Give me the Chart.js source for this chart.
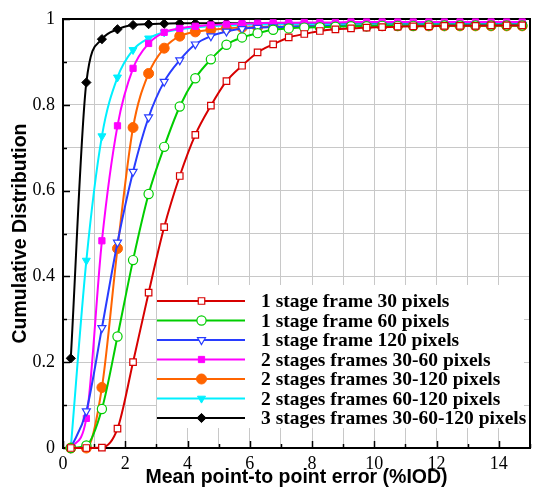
<!DOCTYPE html>
<html>
<head>
<meta charset="utf-8">
<script src="https://cdn.jsdelivr.net/npm/chart.js@4.4.0/dist/chart.umd.min.js"></script>
<style>
  html, body { margin: 0; padding: 0; background: #fff; }
  canvas { display: block; }
</style>
</head>
<body>
<canvas id="cdf" width="536" height="489"></canvas>
<script>
// bin centres of the error histogram (%IOD)
const errorBins = [0.25, 0.75, 1.25, 1.75, 2.25, 2.75, 3.25, 3.75, 4.25, 4.75,
                   5.25, 5.75, 6.25, 6.75, 7.25, 7.75, 8.25, 8.75, 9.25, 9.75,
                   10.25, 10.75, 11.25, 11.75, 12.25, 12.75, 13.25, 13.75, 14.25, 14.75];

const oneStage30 = [0, 0, 0.001, 0.045, 0.200, 0.362, 0.515, 0.634, 0.730, 0.798,
                    0.855, 0.891, 0.922, 0.941, 0.957, 0.965, 0.972, 0.976, 0.978, 0.980,
                    0.981, 0.982, 0.983, 0.983, 0.984, 0.984, 0.984, 0.985, 0.985, 0.985];
const oneStage60 = [0, 0.006, 0.091, 0.260, 0.438, 0.592, 0.702, 0.796, 0.862, 0.906,
                    0.940, 0.957, 0.967, 0.975, 0.978, 0.980, 0.981, 0.982, 0.983, 0.983,
                    0.984, 0.984, 0.984, 0.985, 0.985, 0.985, 0.985, 0.985, 0.985, 0.985];
const oneStage120 = [0, 0.086, 0.280, 0.479, 0.644, 0.771, 0.854, 0.904, 0.941, 0.960,
                     0.971, 0.977, 0.980, 0.981, 0.982, 0.983, 0.983, 0.984, 0.984, 0.984,
                     0.985, 0.985, 0.985, 0.985, 0.985, 0.986, 0.986, 0.986, 0.986, 0.986];
const twoStage30x60 = [0, 0.069, 0.483, 0.751, 0.885, 0.943, 0.969, 0.978, 0.983, 0.986,
                       0.988, 0.989, 0.990, 0.991, 0.991, 0.992, 0.992, 0.992, 0.993, 0.993,
                       0.993, 0.993, 0.993, 0.993, 0.993, 0.993, 0.993, 0.993, 0.993, 0.993];
const twoStage30x120 = [0, 0, 0.141, 0.465, 0.747, 0.873, 0.932, 0.960, 0.970, 0.975,
                        0.978, 0.980, 0.981, 0.982, 0.982, 0.983, 0.983, 0.983, 0.984, 0.984,
                        0.984, 0.984, 0.984, 0.984, 0.984, 0.984, 0.984, 0.984, 0.984, 0.984];
const twoStage60x120 = [0, 0.437, 0.727, 0.864, 0.928, 0.955, 0.969, 0.976, 0.980, 0.983,
                        0.985, 0.986, 0.987, 0.987, 0.988, 0.988, 0.988, 0.988, 0.988, 0.988,
                        0.988, 0.988, 0.988, 0.988, 0.988, 0.988, 0.988, 0.988, 0.988, 0.988];
const threeStage = [0.209, 0.852, 0.953, 0.976, 0.986, 0.988, 0.989, 0.990, 0.990, 0.990,
                    0.990, 0.990, 0.990, 0.990, 0.990, 0.990, 0.990, 0.990, 0.990, 0.990,
                    0.990, 0.990, 0.990, 0.990, 0.990, 0.990, 0.990, 0.990, 0.990, 0.990];

const seriesNames = [
  '1 stage frame 30 pixels',
  '1 stage frame 60 pixels',
  '1 stage frame 120 pixels',
  '2 stages frames 30-60 pixels',
  '2 stages frames 30-120 pixels',
  '2 stages frames 60-120 pixels',
  '3 stages frames 30-60-120 pixels'
];
const seriesValues = [oneStage30, oneStage60, oneStage120, twoStage30x60,
                      twoStage30x120, twoStage60x120, threeStage];

const xTickLabels = [0, 2, 4, 6, 8, 10, 12, 14];
const yTickLabels = [0, 0.2, 0.4, 0.6, 0.8, 1];

// marker look per series
const looks = [
  { color: 'rgb(215,0,0)',   style: 'rect',     radius: 4.6, hollow: true,  rot: 0 },
  { color: 'rgb(0,205,0)',   style: 'circle',   radius: 4.6, hollow: true,  rot: 0 },
  { color: 'rgb(40,60,255)', style: 'triangle', radius: 4.6, hollow: true,  rot: 180 },
  { color: 'rgb(255,0,255)', style: 'rect',     radius: 4.4, hollow: false, rot: 0 },
  { color: 'rgb(255,100,0)', style: 'circle',   radius: 5,   hollow: false, rot: 0 },
  { color: 'rgb(0,240,255)', style: 'triangle', radius: 4.6, hollow: false, rot: 180 },
  { color: 'rgb(0,0,0)',     style: 'rectRot',  radius: 4.6, hollow: false, rot: 0 }
];

const datasets = seriesValues.map((vals, i) => ({
  label: seriesNames[i],
  data: vals.map((v, k) => ({ x: errorBins[k], y: v })),
  borderColor: looks[i].color,
  borderWidth: 2,
  pointStyle: looks[i].style,
  pointRadius: looks[i].radius,
  pointRotation: looks[i].rot,
  pointBorderWidth: looks[i].hollow ? 1.2 : 1,
  pointBorderColor: looks[i].color,
  pointBackgroundColor: looks[i].hollow ? '#fff' : looks[i].color,
  cubicInterpolationMode: 'monotone',
  clip: false,
  fill: false
}));

function markerAt(ctx, look, x, y) {
  ctx.strokeStyle = look.color;
  ctx.fillStyle = look.hollow ? '#fff' : look.color;
  ctx.lineWidth = look.hollow ? 1.2 : 1;
  if (Chart.helpers && Chart.helpers.drawPoint) {
    Chart.helpers.drawPoint(ctx, { pointStyle: look.style, radius: look.radius,
      rotation: look.rot, borderWidth: ctx.lineWidth }, x, y);
  } else {
    ctx.beginPath();
    ctx.arc(x, y, look.radius, 0, Math.PI * 2);
    ctx.fill();
    ctx.stroke();
  }
}

// frame round the plot plus short ticks pointing inwards
const frameTicks = {
  id: 'frameTicks',
  beforeDatasetsDraw(chart) {
    const { ctx, chartArea: a, scales } = chart;
    ctx.save();
    ctx.strokeStyle = '#000';
    ctx.lineWidth = 1.5;
    ctx.beginPath();
    scales.y.ticks.forEach(t => {
      const py = Math.round(scales.y.getPixelForValue(t.value)) + 0.5;
      const len = yTickLabels.some(v => Math.abs(v - t.value) < 1e-6) ? 7 : 4;
      ctx.moveTo(a.left, py);
      ctx.lineTo(a.left + len, py);
    });
    scales.x.ticks.forEach(t => {
      const px = Math.round(scales.x.getPixelForValue(t.value)) + 0.5;
      const len = xTickLabels.includes(t.value) ? 7 : 4;
      ctx.moveTo(px, a.bottom);
      ctx.lineTo(px, a.bottom - len);
    });
    ctx.stroke();
    ctx.lineWidth = 2;
    ctx.strokeRect(a.left, a.top, a.right - a.left, a.bottom - a.top);
    ctx.restore();
  }
};

// legend drawn inside the plot, bottom right
const innerLegend = {
  id: 'innerLegend',
  afterDatasetsDraw(chart) {
    const { ctx, chartArea: a } = chart;
    const left = a.left + 94, top = a.top + 266;
    ctx.save();
    ctx.fillStyle = '#fff';
    ctx.fillRect(left, top, a.right - 6 - left, 143);
    ctx.font = 'bold 19.5px "Liberation Serif", "Times New Roman", serif';
    ctx.textBaseline = 'middle';
    seriesNames.forEach((name, i) => {
      const y = top + 16 + i * 19.5;
      ctx.strokeStyle = looks[i].color;
      ctx.lineWidth = 2;
      ctx.beginPath();
      ctx.moveTo(left, y);
      ctx.lineTo(left + 88, y);
      ctx.stroke();
      markerAt(ctx, looks[i], left + 44.5, y);
      ctx.fillStyle = '#000';
      ctx.fillText(name, left + 104, y + 1);
    });
    ctx.restore();
  }
};

new Chart(document.getElementById('cdf'), {
  type: 'line',
  data: { datasets: datasets },
  options: {
    responsive: false,
    animation: false,
    layout: { padding: { top: 19, right: 1, left: 0, bottom: 0 } },
    plugins: {
      legend: { display: false },
      tooltip: { enabled: false }
    },
    scales: {
      x: {
        type: 'linear',
        min: 0,
        max: 15,
        afterFit(scale) { scale.height = 41; },
        grid: { color: '#c8c8c8', lineWidth: 1, drawTicks: false },
        border: { display: false },
        ticks: {
          stepSize: 1,
          autoSkip: false,
          maxRotation: 0,
          padding: 5,
          color: '#000',
          font: { family: '"Liberation Serif", "Times New Roman", serif', size: 18 },
          callback: v => xTickLabels.includes(v) ? String(v) : ''
        },
        title: {
          display: true,
          text: 'Mean point-to point error (%IOD)',
          color: '#000',
          padding: { top: 0, bottom: 0 },
          font: { family: '"Liberation Sans", Arial, sans-serif', size: 19.5, weight: 'bold' }
        }
      },
      y: {
        min: 0,
        max: 1,
        afterFit(scale) { scale.width = 63; },
        grid: { color: '#c8c8c8', lineWidth: 1, drawTicks: false },
        border: { display: false },
        ticks: {
          stepSize: 0.1,
          autoSkip: false,
          padding: 8,
          color: '#000',
          font: { family: '"Liberation Serif", "Times New Roman", serif', size: 18 },
          callback: v => {
            const hit = yTickLabels.find(t => Math.abs(t - v) < 1e-6);
            return hit === undefined ? '' : String(hit);
          }
        },
        title: {
          display: true,
          text: 'Cumulative Distribution',
          color: '#000',
          padding: { top: 8.5, bottom: 0 },
          font: { family: '"Liberation Sans", Arial, sans-serif', size: 19.5, weight: 'bold' }
        }
      }
    }
  },
  plugins: [frameTicks, innerLegend]
});
</script>
</body>
</html>
